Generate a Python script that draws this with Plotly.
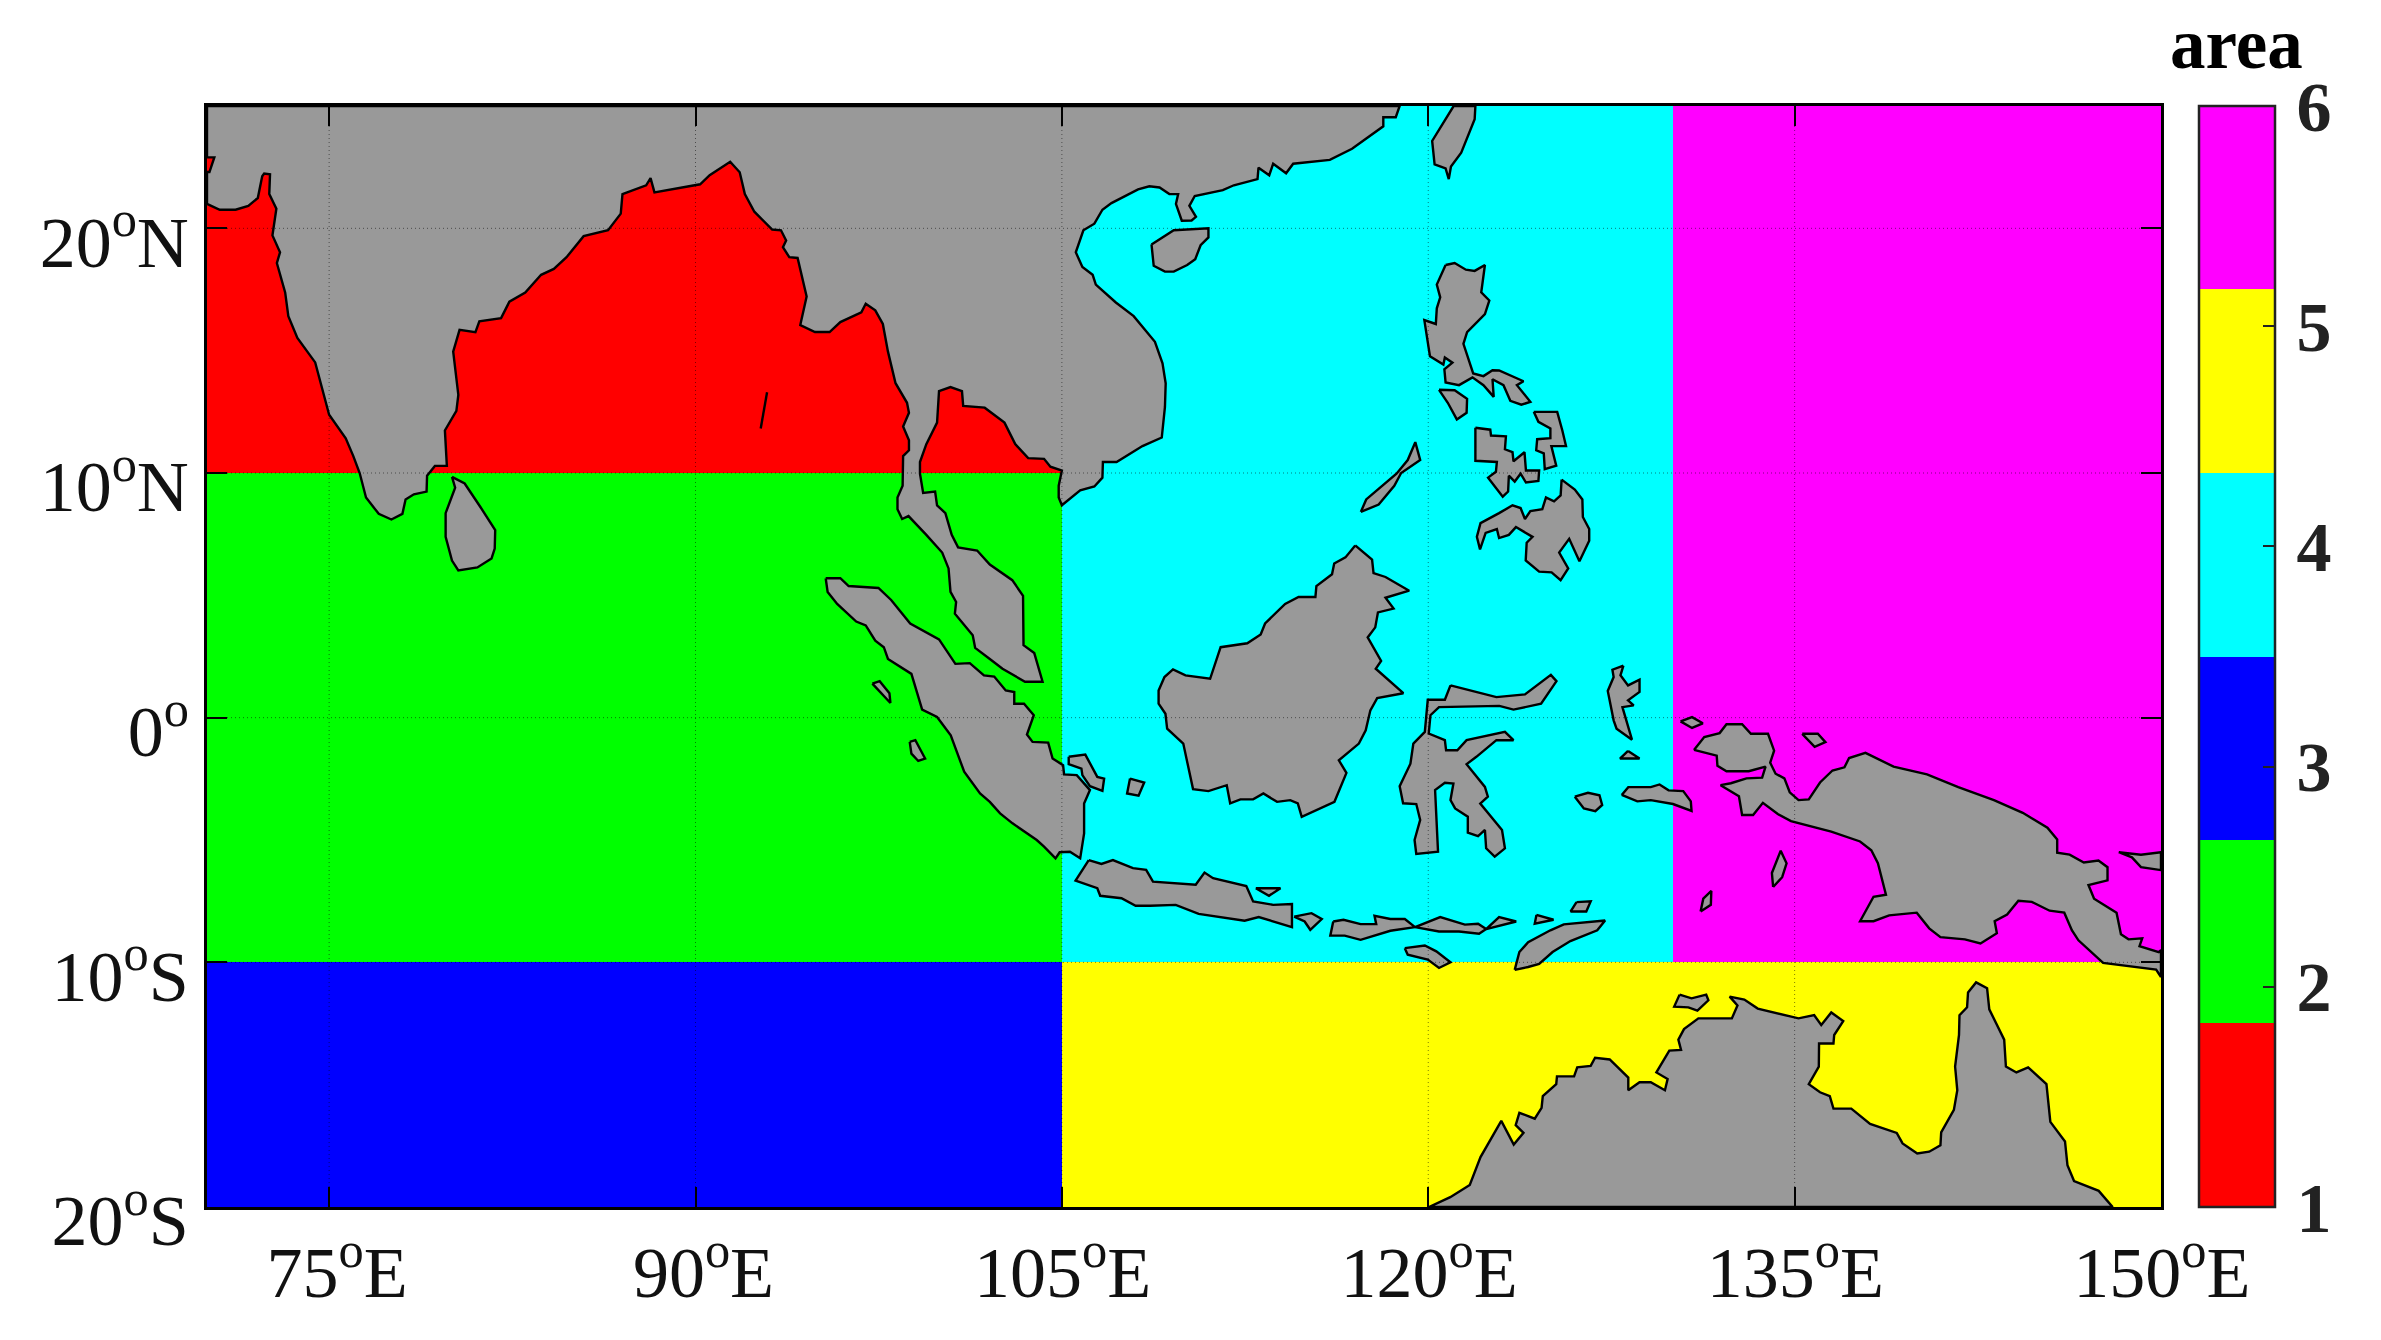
import plotly.graph_objects as go

# Zone map
zone_lon_edges = [70, 105, 130, 150]
zone_lat_edges = [-20, -10, 10, 25]
zone_values = [[3, 5, 5], [2, 4, 6], [1, 4, 6]]
zone_colors = ["#ff0000", "#00ff00", "#0000ff", "#00ffff", "#ffff00", "#ff00ff"]
area_ticks = [1, 2, 3, 4, 5, 6]

x_ticks = [75, 90, 105, 120, 135, 150]
x_labels = ["75<sup>o</sup>E", "90<sup>o</sup>E", "105<sup>o</sup>E\u2009", "120<sup>o</sup>E\u2009", "135<sup>o</sup>E\u2009", "150<sup>o</sup>E\u2009"]
y_ticks = [-20, -10, 0, 10, 20]
y_labels = ["20<sup>o</sup>S", "10<sup>o</sup>S", "0<sup>o</sup>", "10<sup>o</sup>N", "20<sup>o</sup>N"]
x_grid = [75, 90, 105, 120, 135]
y_grid = [-10, 0, 10, 20]

# Coastlines as (lon, lat)
asia = [(70,25),(70,22.9),(70.3,22.9),(70.1,22.3),(70,22.3),(70,21.0),(70.52,20.76),(71.17,20.76),(71.69,20.92),(72.08,21.24),(72.26,22.13),(72.34,22.24),(72.58,22.21),(72.55,21.4),(72.84,20.8),(72.68,19.71),(72.99,19.02),(72.86,18.58),(73.2,17.38),(73.33,16.41),(73.7,15.52),(74.43,14.52),(75,12.38),(75.68,11.42),(75.99,10.69),(76.25,10),(76.51,9.0),(77.03,8.33),(77.55,8.1),(78.0,8.33),(78.13,8.92),(78.47,9.13),(78.99,9.24),(79.01,9.89),(79.33,10.29),(79.82,10.29),(79.74,11.74),(80.21,12.54),(80.29,13.19),(80.08,14.96),(80.34,15.85),(80.99,15.76),(81.15,16.2),(82.04,16.33),(82.38,17.0),(83.03,17.38),(83.68,18.1),(84.2,18.34),(84.72,18.82),(85.42,19.68),(86.42,19.92),(86.94,20.6),(87.01,21.4),(87.98,21.76),(88.16,22.05),(88.32,21.47),(90.19,21.8),(90.58,22.17),(91.42,22.72),(91.81,22.29),(92.02,21.4),(92.41,20.68),(93.14,19.95),(93.5,19.92),(93.71,19.5),(93.58,19.23),(93.84,18.82),(94.18,18.79),(94.55,17.21),(94.29,16.05),(94.89,15.76),(95.49,15.76),(95.93,16.17),(96.79,16.57),(96.97,16.92),(97.36,16.65),(97.67,16.09),(97.88,14.96),(98.19,13.67),(98.66,12.87),(98.74,12.46),(98.5,11.9),(98.74,11.34),(98.74,10.93),(98.5,10.69),(98.48,9.48),(98.27,9.0),(98.27,8.52),(98.46,8.12),(98.72,8.24),(99.45,7.47),(100.1,6.75),(100.36,6.1),(100.44,5.14),(100.67,4.73),(100.62,4.25),(101.35,3.37),(101.45,2.85),(102.05,2.4),(102.57,2.0),(103.49,1.47),(104.21,1.47),(103.87,2.64),(103.43,2.96),(103.41,4.98),(102.97,5.62),(102.05,6.26),(101.53,6.83),(100.75,6.96),(100.49,7.47),(100.23,8.36),(99.89,8.68),(99.81,9.24),(99.32,9.19),(99.19,9.97),(99.19,10.45),(99.45,11.18),(99.89,12.06),(99.97,13.35),(100.44,13.51),(100.91,13.35),(100.96,12.74),(101.84,12.67),(102.65,12.06),(103.09,11.18),(103.62,10.61),(104.27,10.58),(104.53,10.26),(105,10.1),(104.87,9.48),(104.87,9.0),(105,8.68),(105.75,9.29),(106.33,9.45),(106.66,9.81),(106.68,10.45),(107.24,10.45),(108.3,11.1),(109.09,11.45),(109.22,12.7),(109.25,13.67),(109.12,14.48),(108.81,15.36),(107.94,16.41),(107.21,16.97),(106.39,17.7),(106.26,18.1),(105.84,18.42),(105.57,19.02),(105.88,19.92),(106.33,20.19),(106.66,20.76),(107.03,21.03),(108.12,21.59),(108.58,21.72),(109.0,21.67),(109.4,21.4),(109.76,21.4),(109.67,21.0),(109.91,20.31),(110.31,20.32),(110.49,20.47),(110.22,20.92),(110.44,21.32),(111.59,21.56),(112.04,21.76),(113.01,22.01),(113.05,22.48),(113.49,22.17),(113.65,22.64),(114.18,22.25),(114.47,22.64),(115.97,22.8),(116.88,23.25),(118.16,24.17),(118.16,24.54),(118.67,24.54),(118.83,25.0)]
sri_lanka = [(80.03,9.84),(80.55,9.57),(81.2,8.6),(81.8,7.67),(81.78,6.91),(81.65,6.51),(81.07,6.14),(80.29,6.02),(80.03,6.42),(79.77,7.39),(79.77,8.36),(80.16,9.4)]
sumatra = [(95.33,5.7),(95.93,5.7),(96.27,5.38),(97.49,5.3),(98.01,4.81),(98.79,3.85),(99.97,3.2),(100.64,2.2),(101.23,2.23),(101.81,1.73),(102.23,1.68),(102.7,1.11),(103.05,1.05),(103.05,0.57),(103.45,0.57),(103.85,0.1),(103.57,-0.69),(103.8,-0.99),(104.44,-1.02),(104.62,-1.67),(105.05,-1.94),(105.09,-2.32),(105.61,-2.35),(106.15,-2.96),(105.91,-3.51),(105.91,-4.73),(105.75,-5.75),(105.33,-5.48),(104.91,-5.5),(104.74,-5.75),(104.27,-5.27),(103.97,-5.0),(102.98,-4.32),(102.47,-3.91),(102.05,-3.44),(101.65,-3.1),(101.0,-2.21),(100.45,-0.72),(99.89,0.03),(99.28,0.33),(98.84,1.79),(97.88,2.4),(97.71,2.88),(97.36,3.15),(96.97,3.77),(96.58,3.93),(95.8,4.65),(95.41,5.14)]
simeulue = [(97.24,1.39),(97.54,1.49),(97.94,1.0),(97.98,0.6)]
nias = [(98.77,-0.99),(99.0,-0.92),(99.4,-1.67),(99.12,-1.77),(98.84,-1.47)]
bangka = [(105.28,-1.6),(105.96,-1.51),(106.45,-2.42),(106.73,-2.49),(106.66,-2.99),(106.15,-2.8),(105.84,-2.35),(105.8,-2.08),(105.28,-1.9)]
belitung = [(107.79,-2.49),(108.37,-2.65),(108.14,-3.19),(107.67,-3.1)]
borneo = [(117.01,7.04),(117.7,6.46),(117.76,5.91),(118.25,5.75),(119.22,5.19),(118.25,4.9),(118.58,4.46),(117.94,4.3),(117.83,3.69),(117.52,3.28),(118.07,2.32),(117.85,2.0),(118.98,1.0),(117.91,0.8),(117.63,0.3),(117.44,-0.52),(117.16,-1.06),(116.34,-1.74),(116.65,-2.26),(116.16,-3.44),(114.82,-4.05),(114.66,-3.5),(114.35,-3.37),(113.81,-3.44),(113.25,-3.1),(112.83,-3.34),(112.31,-3.34),(111.89,-3.5),(111.75,-2.76),(111.0,-3.0),(110.37,-2.92),(110.13,-1.88),(109.97,-1.06),(109.31,-0.45),(109.24,0.16),(108.96,0.57),(108.96,1.11),(109.2,1.66),(109.55,1.97),(110.06,1.73),(111.07,1.59),(111.5,2.88),(112.59,3.04),(113.14,3.4),(113.32,3.85),(114.14,4.65),(114.69,4.93),(115.38,4.93),(115.42,5.38),(116.06,5.86),(116.15,6.3),(116.61,6.55)]
sulawesi = [(120.91,1.32),(122.79,0.84),(123.96,0.95),(125.02,1.75),(125.25,1.49),(124.62,0.57),(123.49,0.33),(122.91,0.48),(120.44,0.43),(120.09,0.1),(120.02,-0.65),(120.68,-0.92),(120.73,-1.33),(121.19,-1.33),(121.57,-0.92),(123.14,-0.58),(123.49,-0.92),(122.79,-0.92),(121.97,-1.6),(121.57,-1.9),(122.32,-2.83),(122.44,-3.23),(122.13,-3.51),(123.02,-4.59),(123.14,-5.34),(122.72,-5.68),(122.37,-5.34),(122.32,-4.59),(122.04,-4.84),(121.62,-4.7),(121.62,-4.05),(121.1,-3.71),(120.91,-3.37),(121.03,-2.69),(120.68,-2.66),(120.28,-2.96),(120.4,-5.48),(119.51,-5.57),(119.44,-5.0),(119.67,-4.18),(119.51,-3.53),(118.97,-3.5),(118.83,-2.8),(119.27,-1.88),(119.39,-1.06),(119.86,-0.58),(119.98,0.73),(120.68,0.73)]
halmahera = [(127.99,2.13),(127.54,1.96),(127.59,1.66),(127.35,1.09),(127.59,-0.11),(127.71,-0.45),(128.34,-0.9),(127.95,0.43),(128.41,0.5),(128.18,0.71),(128.65,1.05),(128.65,1.55),(128.18,1.32),(127.87,1.73)]
obi = [(128.18,-1.36),(128.65,-1.67),(127.85,-1.67)]
buru = [(126.0,-3.23),(126.54,-3.07),(127.01,-3.17),(127.12,-3.57),(126.84,-3.82),(126.37,-3.71)]
seram = [(127.92,-3.16),(128.19,-2.84),(129.11,-2.84),(129.47,-2.73),(129.84,-2.97),(130.44,-3.0),(130.75,-3.42),(130.78,-3.81),(130.02,-3.53),(129.11,-3.37),(128.56,-3.42)]
misool = [(130.33,-0.15),(130.8,0.02),(131.24,-0.23),(130.8,-0.42)]
biak = [(135.31,-0.66),(135.95,-0.66),(136.26,-1.0),(135.82,-1.19)]
new_guinea = [(130.88,-1.32),(131.3,-0.79),(131.93,-0.63),(132.21,-0.27),(132.85,-0.27),(133.21,-0.66),(133.91,-0.66),(134.16,-1.35),(134.0,-1.84),(134.22,-2.29),(134.58,-2.48),(134.8,-3.05),(135.16,-3.37),(135.58,-3.34),(136.04,-2.65),(136.55,-2.16),(137.04,-2.03),(137.23,-1.65),(137.9,-1.44),(139.05,-2.0),(140.42,-2.32),(141.7,-2.84),(143.16,-3.37),(144.34,-3.89),(145.35,-4.5),(145.75,-4.98),(145.75,-5.52),(146.26,-5.6),(146.84,-5.92),(147.44,-5.84),(147.81,-6.11),(147.81,-6.65),(147.03,-6.84),(147.26,-7.4),(148.18,-7.97),(148.36,-8.85),(148.67,-9.06),(149.23,-9.02),(149.12,-9.34),(149.91,-9.58),(150,-9.5),(150,-10.6),(149.8,-10.3),(147.63,-10.02),(146.62,-9.1),(146.35,-8.69),(146.04,-7.97),(145.44,-7.89),(144.71,-7.53),(144.16,-7.48),(143.7,-8.05),(143.19,-8.32),(143.28,-8.81),(142.61,-9.23),(141.97,-9.06),(140.97,-8.97),(140.51,-8.61),(140.0,-7.97),(138.87,-8.08),(138.23,-8.32),(137.68,-8.32),(138.23,-7.32),(138.74,-7.24),(138.41,-5.95),(138.14,-5.42),(137.68,-5.06),(136.5,-4.66),(135.31,-4.34),(134.85,-4.23),(134.31,-3.94),(133.7,-3.48),(133.3,-3.98),(132.85,-3.98),(132.72,-3.21),(131.97,-2.76),(132.39,-2.68),(133.03,-2.48),(133.67,-2.45),(133.81,-2.0),(133.12,-2.19),(132.21,-2.19),(131.84,-1.97),(131.81,-1.55)]
new_britain = [(148.27,-5.5),(148.81,-5.71),(149.18,-6.11),(150,-6.23),(150,-5.5),(149.18,-5.6)]
yamdena = [(134.12,-6.92),(134.07,-6.35),(134.43,-5.44),(134.67,-5.95),(134.49,-6.52)]
kai = [(131.15,-7.92),(131.26,-7.4),(131.59,-7.08),(131.57,-7.65)]
timor = [(123.54,-10.31),(123.73,-9.58),(124.09,-9.18),(125.0,-8.69),(125.55,-8.45),(127.24,-8.29),(126.92,-8.69),(125.82,-9.13),(125.09,-9.58),(124.54,-10.06),(124.09,-10.19)]
sumba = [(119.04,-9.42),(119.86,-9.31),(120.33,-9.55),(120.91,-10.0),(120.44,-10.23),(119.98,-9.89),(119.16,-9.69)]
java = [(106.1,-5.82),(106.62,-5.98),(107.09,-5.82),(107.91,-6.15),(108.45,-6.22),(108.73,-6.7),(110.48,-6.83),(110.84,-6.33),(111.19,-6.56),(112.55,-6.88),(112.83,-7.51),(113.65,-7.65),(114.42,-7.62),(114.42,-8.56),(113.06,-8.15),(112.48,-8.3),(110.6,-8.02),(109.66,-7.65),(108.61,-7.69),(108.02,-7.69),(107.44,-7.38),(106.57,-7.28),(106.45,-6.97),(105.56,-6.66)]
madura = [(112.94,-6.97),(113.95,-6.97),(113.48,-7.28)]
bali = [(114.51,-8.13),(115.22,-7.99),(115.64,-8.23),(115.17,-8.67),(114.94,-8.33)]
sumbawa = [(116.11,-8.33),(116.53,-8.26),(117.23,-8.44),(117.87,-8.44),(117.8,-8.1),(118.45,-8.23),(119.04,-8.23),(119.46,-8.56),(118.45,-8.71),(117.23,-9.08),(116.58,-8.91),(115.99,-8.91)]
flores = [(119.46,-8.56),(120.49,-8.15),(121.5,-8.46),(122.04,-8.42),(122.37,-8.64),(122.08,-8.83),(121.26,-8.74),(120.44,-8.74)]
flores_tip = [(122.37,-8.64),(122.9,-8.15),(123.6,-8.33)]
alor = [(124.43,-8.06),(125.13,-8.26),(124.36,-8.42)]
wetar = [(126.07,-7.54),(126.65,-7.51),(126.47,-7.92),(125.83,-7.92)]
australia = [(120.03,-20),(120.9,-19.6),(121.7,-19.1),(122.14,-17.96),(122.99,-16.48),(123.5,-17.45),(123.9,-16.97),(123.58,-16.65),(123.73,-16.15),(124.36,-16.39),(124.64,-15.95),(124.69,-15.47),(125.24,-14.98),(125.27,-14.66),(125.97,-14.66),(126.1,-14.29),(126.65,-14.23),(126.83,-13.9),(127.43,-13.97),(128.19,-14.71),(128.19,-15.23),(128.65,-14.9),(129.11,-14.9),(129.69,-15.23),(129.8,-14.77),(129.34,-14.5),(129.87,-13.61),(130.35,-13.58),(130.24,-13.16),(130.47,-12.73),(131.06,-12.29),(132.43,-12.29),(132.66,-11.76),(132.34,-11.4),(132.94,-11.52),(133.49,-11.89),(135.16,-12.29),(135.8,-12.16),(136.09,-12.56),(136.5,-12.05),(136.99,-12.4),(136.62,-12.97),(136.59,-13.32),(136.0,-13.32),(135.99,-14.26),(135.58,-14.98),(136.04,-15.31),(136.44,-15.47),(136.59,-15.98),(137.32,-15.98),(138.09,-16.6),(139.18,-16.97),(139.42,-17.4),(140.02,-17.81),(140.51,-17.74),(140.97,-17.48),(141.0,-16.95),(141.52,-16.03),(141.66,-15.23),(141.57,-14.26),(141.73,-12.97),(141.75,-12.16),(142.06,-11.84),(142.1,-11.23),(142.43,-10.82),(142.88,-11.06),(142.97,-11.92),(143.58,-13.16),(143.65,-14.26),(144.08,-14.5),(144.56,-14.29),(145.31,-14.98),(145.47,-16.52),(146.07,-17.32),(146.17,-18.29),(146.44,-18.94),(147.45,-19.34),(148.02,-20)]
melville = [(130.29,-11.32),(130.78,-11.47),(131.38,-11.32),(131.47,-11.55),(131.02,-11.97),(130.65,-11.84),(130.07,-11.81)]
hainan = [(108.67,19.34),(109.58,19.92),(111.0,20.0),(111.0,19.63),(110.68,19.31),(110.46,18.74),(110.13,18.5),(109.58,18.23),(109.22,18.23),(108.76,18.47)]
taiwan = [(121.04,25),(120.44,24.06),(120.16,23.57),(120.26,22.61),(120.71,22.45),(120.84,22.01),(120.93,22.53),(121.35,23.09),(121.9,24.46),(121.93,25)]
luzon = [(120.71,18.5),(121.08,18.58),(121.54,18.31),(121.9,18.26),(122.32,18.5),(122.17,17.38),(122.5,17.05),(122.32,16.49),(121.59,15.76),(121.44,15.28),(121.84,14.07),(122.26,13.96),(122.63,14.2),(122.9,14.19),(123.9,13.75),(123.63,13.59),(124.18,12.91),(123.81,12.79),(123.36,12.95),(123.08,13.59),(122.63,13.83),(122.68,13.11),(122.26,13.59),(121.81,13.91),(121.26,13.59),(120.71,13.7),(120.66,14.24),(120.99,14.51),(120.68,14.72),(120.62,14.43),(120.07,14.77),(119.84,16.25),(120.31,16.09),(120.35,16.73),(120.49,17.18),(120.35,17.7)]
mindoro = [(120.44,13.4),(121.08,13.38),(121.59,13.03),(121.57,12.46),(121.17,12.19),(120.8,12.87)]
samar = [(124.32,12.5),(125.28,12.5),(125.49,11.74),(125.64,11.1),(125.04,11.1),(125.24,10.3),(124.77,10.16),(124.73,10.8),(124.42,10.93),(124.46,11.38),(125.0,11.42),(125.0,11.82),(124.51,12.09)]
visayas = [(121.93,11.85),(122.54,11.77),(122.57,11.53),(123.18,11.5),(123.14,10.97),(123.45,10.85),(123.49,10.48),(123.94,10.85),(124.0,10.1),(124.54,10.1),(124.51,9.68),(124.0,9.61),(123.78,9.97),(123.54,9.65),(123.3,9.89),(123.27,9.24),(123.05,9.03),(122.45,9.81),(122.77,10.05),(122.81,10.45),(121.93,10.5)]
mindanao = [(125.46,9.73),(126.0,9.32),(126.31,8.92),(126.33,8.2),(126.59,7.71),(126.59,7.23),(126.19,6.39),(125.77,7.31),(125.36,6.75),(125.73,6.1),(125.42,5.62),(125.05,5.94),(124.54,5.97),(123.99,6.43),(124.03,7.15),(124.27,7.39),(123.59,7.79),(123.3,7.47),(122.9,7.34),(122.81,7.71),(122.35,7.55),(122.12,6.88),(121.99,7.39),(122.14,7.95),(122.9,8.36),(123.45,8.68),(123.78,8.57),(123.96,8.12),(124.18,8.44),(124.67,8.52),(124.82,9.0),(125.15,8.84),(125.42,9.08)]
palawan = [(117.24,8.41),(117.46,8.92),(118.7,9.97),(119.16,10.53),(119.47,11.26),(119.67,10.53),(118.89,10.0),(118.61,9.48),(117.97,8.71)]
andaman_line = [(92.93,13.3),(92.67,11.82)]

land_polygons = [asia, sri_lanka, sumatra, simeulue, nias, bangka, belitung, borneo, sulawesi, halmahera, obi, buru, seram, misool, biak, new_guinea, new_britain, yamdena, kai, timor, sumba, java, madura, bali, sumbawa, flores, flores_tip, alor, wetar, australia, melville, hainan, taiwan, luzon, mindoro, samar, visayas, mindanao, palawan]

LEFT, RIGHT, TOP, BOTTOM = 206.5, 219.5, 105.8, 133.4
SERIF = "Liberation Serif"

n = len(zone_colors)
scale = []
for i, c in enumerate(zone_colors):
    scale += [[i / n, c], [(i + 1) / n, c]]

fig = go.Figure()
fig.add_trace(go.Heatmap(
    x=zone_lon_edges, y=zone_lat_edges, z=zone_values,
    zmin=1, zmax=6, colorscale=scale, hoverinfo="skip",
    colorbar=dict(
        x=1.0197, xanchor="left", xref="paper", y=0.5, yanchor="middle", len=1, lenmode="fraction",
        thickness=75.5, thicknessmode="pixels", xpad=0, ypad=0,
        outlinecolor="#222222", outlinewidth=2.5,
        tickmode="array", tickvals=area_ticks, ticktext=["\u200a" + str(t) for t in area_ticks],
        ticks="inside", ticklen=13, tickwidth=2, tickcolor="#222222",
        tickfont=dict(family=SERIF, size=70, color="#222222", weight="bold"),
    ),
))
for poly in land_polygons:
    lons, lats = zip(*poly)
    fig.add_trace(go.Scatter(
        x=list(lons) + [lons[0]], y=list(lats) + [lats[0]], mode="lines", fill="toself",
        fillcolor="#999999", line=dict(color="black", width=2.4), hoverinfo="skip", showlegend=False,
    ))
lons, lats = zip(*andaman_line)
fig.add_trace(go.Scatter(x=list(lons), y=list(lats), mode="lines", line=dict(color="black", width=2.4), hoverinfo="skip", showlegend=False))

grid_x, grid_y = [], []
for v in x_grid:
    grid_x += [v, v, None]
    grid_y += [-20, 25, None]
for v in y_grid:
    grid_x += [70, 150, None]
    grid_y += [v, v, None]
fig.add_trace(go.Scatter(x=grid_x, y=grid_y, mode="lines", line=dict(color="rgba(0,0,0,0.5)", width=1, dash="1px,3px"), hoverinfo="skip", showlegend=False))

axis_font = dict(family=SERIF, size=72, color="#111111")
fig.update_layout(
    width=2381, height=1340, paper_bgcolor="white", plot_bgcolor="white",
    margin=dict(l=LEFT, r=RIGHT, t=TOP, b=BOTTOM, autoexpand=False),
    showlegend=False,
    xaxis=dict(range=[70, 150], tickmode="array", tickvals=x_ticks, ticktext=x_labels, ticks="inside", ticklen=20, tickwidth=2,
               tickcolor="black", showline=True, mirror="ticks", linecolor="black", linewidth=2.5, showgrid=False, zeroline=False,
               tickfont=axis_font, ticklabelshift=8, ticklabelstandoff=1, tickangle=0),
    yaxis=dict(range=[-20, 25], tickmode="array", tickvals=y_ticks, ticktext=y_labels, ticks="inside", ticklen=20, tickwidth=2,
               tickcolor="black", showline=True, mirror="ticks", linecolor="black", linewidth=2.5, showgrid=False, zeroline=False,
               tickfont=axis_font, ticklabelshift=13, ticklabelstandoff=1),
    annotations=[dict(text="<b>area</b>", xref="paper", yref="paper", x=1.0386, y=1.0, xanchor="center", yanchor="bottom", yshift=21,
                      showarrow=False, font=dict(family=SERIF, size=71, color="black"))],
)
fig.write_html("out.html", post_script="document.body.style.margin='0';", config={"displayModeBar": False})
